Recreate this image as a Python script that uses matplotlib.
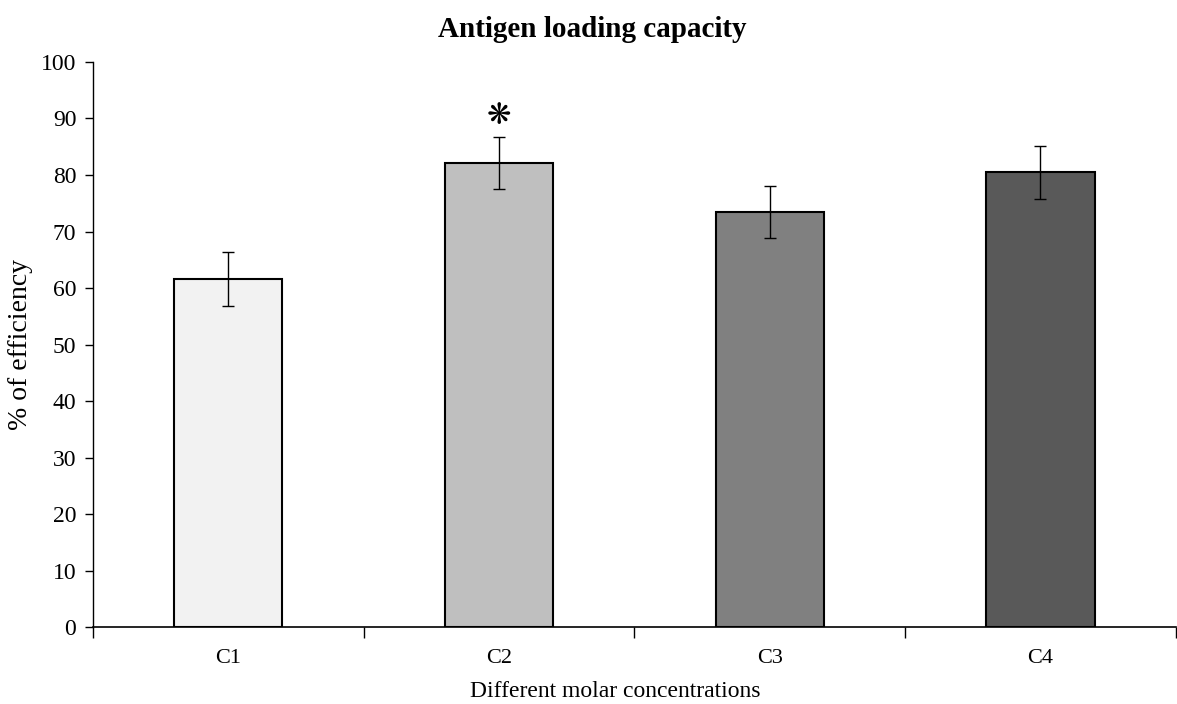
import matplotlib
matplotlib.use("Agg")
import matplotlib.pyplot as plt
import numpy as np

# Loading efficiency per molar concentration
categories = ["C1", "C2", "C3", "C4"]
efficiency = [61.6, 82.2, 73.5, 80.5]
errors = [4.7, 4.6, 4.6, 4.7]
bar_colors = ["#f2f2f2", "#bfbfbf", "#808080", "#595959"]
significant = [False, True, False, False]

plt.rcParams["font.family"] = ["Liberation Serif", "DejaVu Serif"]

fig = plt.figure(figsize=(11.77, 7.04), dpi=100)
ax = fig.add_axes([0.079, 0.109, 0.92, 0.803])

x = np.arange(len(categories))
ax.bar(x, efficiency, width=0.4, color=bar_colors, edgecolor="black", linewidth=1.5, zorder=2)
ax.errorbar(x, efficiency, yerr=errors, fmt="none", ecolor="black",
            elinewidth=1, capsize=4, capthick=1, zorder=3)

# star above significant bars
for xi, v, e, s in zip(x, efficiency, errors, significant):
    if s:
        ax.text(xi, v + e + 1.2, "\u274b", ha="center", va="bottom",
                fontsize=21, family=["DejaVu Sans"])

ax.set_xlim(-0.5, 3.5)
ax.set_ylim(0, 100)
ax.set_yticks(range(0, 101, 10))
ax.set_xticks(x)
ax.set_xticklabels(categories)
ax.set_xticks(np.arange(-0.5, 4.0, 1.0), minor=True)
ax.tick_params(axis="x", which="major", length=0, pad=16, labelsize=16)
ax.tick_params(axis="x", which="minor", length=8, width=1, direction="out")
ax.tick_params(axis="y", length=6, width=1, direction="out", labelsize=17, pad=6)

for side in ["top", "right"]:
    ax.spines[side].set_visible(False)
ax.spines["left"].set_linewidth(1)
ax.spines["bottom"].set_linewidth(1.2)

fig.text(0.503, 0.958, "Antigen loading capacity", ha="center", va="center",
         fontsize=21, fontweight="bold")
ax.set_xlabel("Different molar concentrations", fontsize=17)
ax.xaxis.set_label_coords(0.482, -0.095)
ax.set_ylabel("% of efficiency", fontsize=20)
ax.yaxis.set_label_coords(-0.055, 0.5)

fig.savefig("out.png", dpi=100)
